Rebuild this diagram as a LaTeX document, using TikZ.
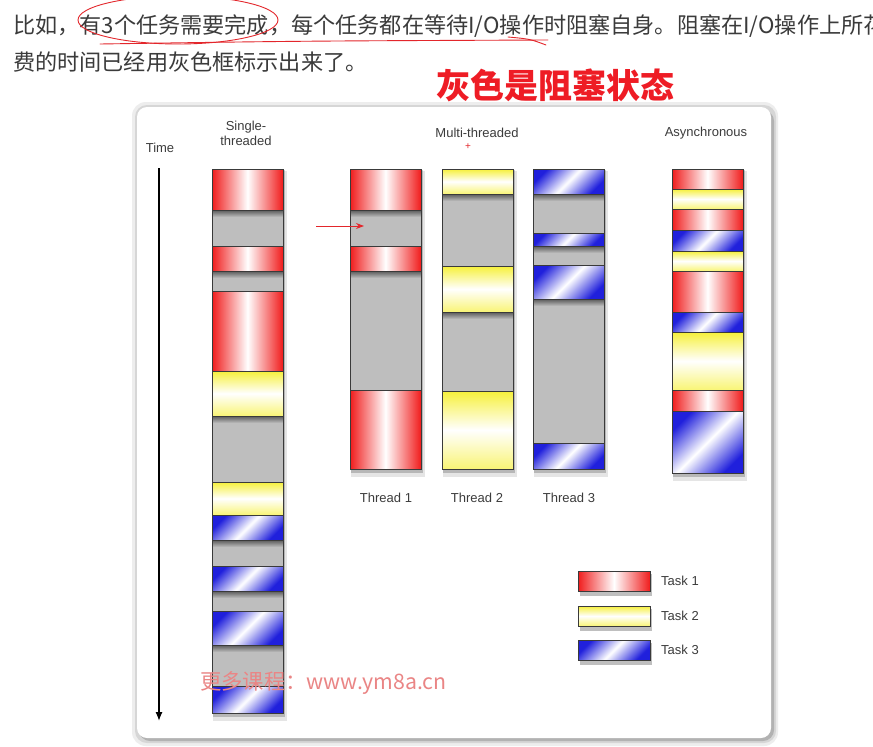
\documentclass[tikz,border=0pt]{standalone}
\usepackage{fontspec}
\setmainfont{Liberation Sans}
\newfontfamily\cjkfont{Noto Sans CJK SC}
\usetikzlibrary{arrows.meta, positioning}
\definecolor{taskred}{HTML}{F01C1C}
\definecolor{taskyellow}{HTML}{F6F03A}
\definecolor{taskblue}{HTML}{2020DC}
\definecolor{idlegrey}{HTML}{BEBEBE}
\definecolor{edgegrey}{HTML}{3A3A3A}
\definecolor{labelgrey}{HTML}{3C3C3C}
\definecolor{textgrey}{HTML}{3B3B3B}
\definecolor{markred}{HTML}{E3262B}
\definecolor{titlered}{HTML}{EE1C25}
\definecolor{watermark}{HTML}{EA8585}

% one bar: #1 left x, #2 top, #3 bottom, #4 busy blocks (top/bottom/task)
\newcommand{\taskbar}[4]{%
  \fill[black, opacity=.10] (#1+1,#2+2) rectangle (#1+75,#3+8);
  \fill[black, opacity=.20] (#1+1,#2+1) rectangle (#1+73,#3+4);
  \fill[idlegrey] (#1,#2) rectangle (#1+71,#3);
  \begin{scope}
    \clip (#1,#2) rectangle (#1+71,#3);
    \foreach \ya/\yb/\kind in {#4} {
      \shade[top color=black!65, bottom color=idlegrey] (#1,\yb) rectangle (#1+71,\yb+7);
    }
  \end{scope}
  \foreach \ya/\yb/\kind in {#4} {
    \draw[style=\kind] (#1,\ya) rectangle (#1+71,\yb);
  }
  \draw[bar edge] (#1,#2) rectangle (#1+71,#3);
}

\begin{document}
\begin{tikzpicture}[x=1pt, y=-1pt,
    bar edge/.style={draw=edgegrey, line width=1pt},
    task1/.style={bar edge, left color=taskred, right color=taskred, middle color=white},
    task2/.style={bar edge, top color=taskyellow, bottom color=taskyellow!70!white, middle color=white},
    task3/.style={bar edge, left color=taskblue, right color=taskblue, middle color=white, shading angle=45},
    bar label/.style={font=\fontsize{13}{15}\selectfont, text=labelgrey, inner sep=0pt, align=center},
    top text/.style={font=\cjkfont\fontsize{22.15}{26}\selectfont, text=textgrey, inner sep=0pt, anchor=base west},
    annot/.style={markred, line width=0.9pt, line cap=round},
  ]

  % page and frame
  \useasboundingbox[fill=white] (0,0) rectangle (873,747);
  \fill[black!7, rounded corners=14] (132,102) rectangle (778,746);
  \fill[black!16, rounded corners=12] (135,105) rectangle (776,743);
  \fill[black!30, rounded corners=11] (139,110) rectangle (774,741);
  \fill[white, rounded corners=10] (137,107) rectangle (771,738);

  % text above the figure
  \node[top text] (line1) at (13,33) {比如，有3个任务需要完成，每个任务都在等待I/O操作时阻塞自身。阻塞在I/O操作上所花};
  \node[top text] (line2) at (13,70) {费的时间已经用灰色框标示出来了。};
  \node[font=\cjkfont\bfseries\fontsize{34}{36}\selectfont, text=titlered, inner sep=0pt, anchor=base west] (note) at (436,98) {灰色是阻塞状态};

  % hand marks
  \draw[annot] (178,20) ellipse [x radius=100, y radius=24];
  \draw[annot] (100,44) .. controls (300,41) .. (548,40);
  \draw[annot] (508,37) .. controls (530,39) .. (546,45);

  % Headings
  \node[bar label] (time) at (160,148) {Time};
  \node[bar label] (single) at (246,133) {Single-\\threaded};
  \node[bar label] (multi) at (477,133) {Multi-threaded};
  \node[bar label] (async) at (706,133) {Asynchronous};
  \node[text=markred, font=\fontsize{10}{10}\selectfont, inner sep=0pt] (cursor) at (468,147) {+};

  % Time axis
  \coordinate (time top) at (159,168);
  \coordinate (time end) at (159,721);
  \draw[line width=1.3pt, -{Latex[length=9pt, width=7pt]}] (time top) -- (time end);

  % Single-threaded
  \taskbar{212}{169}{713}{169/210/task1, 246/271/task1, 291/371/task1, 371/416/task2, 482/515/task2,
    515/540/task3, 566/591/task3, 611/645/task3, 686/713/task3}

  % Multi-threaded
  \taskbar{350}{169}{469}{169/210/task1, 246/271/task1, 390/469/task1}
  \taskbar{442}{169}{469}{169/194/task2, 266/312/task2, 391/469/task2}
  \taskbar{533}{169}{469}{169/194/task3, 233/246/task3, 265/299/task3, 443/469/task3}
  \node[bar label] (thread1) at (386,498) {Thread 1};
  \node[bar label] (thread2) at (477,498) {Thread 2};
  \node[bar label] (thread3) at (569,498) {Thread 3};

  % Asynchronous
  \taskbar{672}{169}{473}{169/189/task1, 189/209/task2, 209/230/task1, 230/251/task3, 251/271/task2,
    271/312/task1, 312/332/task3, 332/390/task2, 390/411/task1, 411/473/task3}

  % red arrow into the first wait
  \coordinate (arrow tail) at (316,226);
  \coordinate (first wait) at (364,226);
  \draw[markred, line width=1pt, -{Stealth[length=8pt, width=6pt]}] (arrow tail) -- (first wait);

  % Legend
  \foreach \ya/\kind/\txt in {571/task1/Task 1, 606/task2/Task 2, 640/task3/Task 3} {
    \fill[black, opacity=.25] (580,\ya+3) rectangle (652,\ya+25);
    \draw[style=\kind] (578,\ya) rectangle (650,\ya+20);
    \node[bar label, anchor=west] (\kind label) at (661,\ya+10) {\txt};
  }

  % watermark
  \node[font=\cjkfont\fontsize{21.3}{24}\selectfont, text=watermark, inner sep=0pt, anchor=west] (site) at (200,683) {更多课程：www.ym8a.cn};

\end{tikzpicture}
\end{document}
